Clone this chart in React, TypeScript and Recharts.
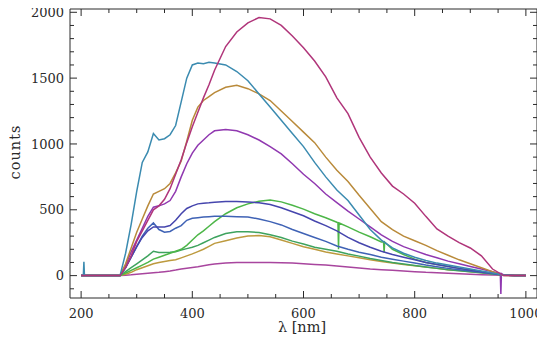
import React from "react";
import { LineChart, Line, XAxis, YAxis } from "recharts";

// Shared wavelength grid (nm)
const WAVELENGTHS = [200, 260, 270, 280, 290, 300, 310, 320, 330, 340, 350, 360, 370, 380, 390, 400, 410, 420, 430, 440, 460, 480, 500, 520, 540, 560, 580, 600, 620, 640, 660, 680, 700, 720, 740, 760, 780, 800, 820, 840, 860, 880, 900, 920, 940, 960, 980, 1000];

const TEAL = [0, 0, 0, 170, 390, 640, 860, 940, 1080, 1030, 1040, 1070, 1140, 1320, 1500, 1600, 1615, 1610, 1620, 1615, 1600, 1550, 1480, 1380, 1280, 1180, 1080, 980, 860, 750, 650, 570, 460, 350, 270, 210, 170, 140, 115, 95, 80, 65, 50, 35, 20, 5, 0, 0];
const MAGENTA = [0, 0, 0, 60, 150, 260, 340, 420, 500, 530, 580, 660, 770, 880, 1010, 1130, 1240, 1350, 1450, 1560, 1740, 1850, 1920, 1960, 1950, 1900, 1820, 1730, 1630, 1510, 1350, 1230, 1050, 900, 780, 680, 620, 550, 450, 355, 300, 250, 210, 150, 50, 0, 0, 0];
const ORANGE = [0, 0, 0, 90, 210, 330, 430, 530, 620, 640, 660, 700, 780, 870, 1020, 1180, 1280, 1330, 1360, 1390, 1430, 1445, 1420, 1380, 1330, 1250, 1170, 1090, 1010, 900, 800, 715, 610, 510, 410, 350, 300, 265, 230, 190, 155, 120, 90, 60, 30, 0, 0, 0];
const PURPLE = [0, 0, 0, 80, 180, 270, 360, 450, 520, 530, 545, 570, 640, 750, 850, 930, 990, 1030, 1070, 1100, 1110, 1100, 1070, 1030, 980, 925, 850, 770, 700, 620, 555, 490, 430, 370, 310, 260, 220, 190, 160, 135, 110, 90, 70, 50, 30, 5, 0, 0];
const BLUE_UP = [0, 0, 0, 60, 140, 220, 290, 340, 370, 370, 370, 380, 420, 470, 510, 530, 545, 550, 553, 558, 562, 562, 560, 553, 540, 515, 485, 455, 415, 380, 340, 290, 250, 215, 185, 160, 140, 120, 100, 85, 70, 55, 42, 30, 18, 5, 0, 0];
const BLUE_LO = [0, 0, 0, 60, 140, 220, 300, 360, 400, 350, 330, 335, 360, 380, 420, 435, 440, 445, 448, 450, 450, 447, 445, 430, 410, 385, 350, 320, 290, 260, 225, 200, 178, 160, 140, 125, 110, 95, 80, 68, 55, 45, 35, 25, 15, 5, 0, 0];
const GREEN_UP = [0, 0, 0, 20, 40, 60, 80, 100, 125, 140, 155, 170, 185, 200, 230, 270, 310, 340, 375, 410, 470, 515, 545, 565, 575, 560, 535, 505, 470, 440, 405, 370, 330, 295, 255, 200, 160, 125, 100, 85, 70, 55, 40, 28, 15, 5, 0, 0];
const GREEN_LO = [0, 0, 0, 30, 60, 90, 120, 150, 185, 175, 175, 178, 182, 195, 205, 215, 230, 250, 270, 290, 320, 333, 333, 328, 310, 290, 262, 240, 215, 200, 185, 165, 148, 130, 115, 100, 88, 76, 65, 55, 45, 37, 30, 22, 12, 5, 0, 0];
const ORANGE_LO = [0, 0, 0, 10, 25, 45, 60, 75, 90, 100, 108, 115, 121, 135, 150, 165, 182, 200, 222, 245, 265, 285, 300, 305, 295, 270, 245, 220, 200, 180, 165, 150, 135, 120, 108, 95, 85, 75, 65, 55, 45, 38, 30, 22, 12, 5, 0, 0];
const BOTTOM = [0, 0, 0, 3, 6, 10, 14, 18, 22, 25, 30, 35, 42, 50, 56, 62, 68, 75, 82, 88, 95, 100, 100, 100, 100, 98, 95, 90, 85, 80, 73, 65, 58, 50, 45, 40, 35, 30, 25, 22, 18, 14, 10, 7, 4, 2, 0, 0];

// Narrow spikes: [wavelength, counts]
const TEAL_SPIKES = [[204, 0], [205, 105], [206, 0]];
const GREEN_UP_SPIKES = [[662, 400], [663, 200], [664, 400], [744, 255], [745, 175], [746, 255]];
const PURPLE_SPIKES = [[954, 15], [955, -140], [956, 15]];

const X_TICKS = [200, 250, 300, 350, 400, 450, 500, 550, 600, 650, 700, 750, 800, 850, 900, 950, 1000];
const Y_TICKS = [-100, 0, 100, 200, 300, 400, 500, 600, 700, 800, 900, 1000, 1100, 1200, 1300, 1400, 1500, 1600, 1700, 1800, 1900, 2000];

const build = (values: number[], spikes: number[][] = []) =>
  WAVELENGTHS.map((wl, i) => ({ wl, v: values[i] }))
    .concat(spikes.map(([wl, v]) => ({ wl, v })))
    .sort((a, b) => a.wl - b.wl);

const SERIES = [
  { name: "bottom", values: BOTTOM, spikes: [], color: "#a8459e" },
  { name: "orangeLo", values: ORANGE_LO, spikes: [], color: "#bd9a3e" },
  { name: "greenLo", values: GREEN_LO, spikes: [], color: "#3ea35e" },
  { name: "greenUp", values: GREEN_UP, spikes: GREEN_UP_SPIKES, color: "#4db648" },
  { name: "blueLo", values: BLUE_LO, spikes: [], color: "#3f62b5" },
  { name: "blueUp", values: BLUE_UP, spikes: [], color: "#4545ad" },
  { name: "purple", values: PURPLE, spikes: PURPLE_SPIKES, color: "#9038b0" },
  { name: "orange", values: ORANGE, spikes: [], color: "#b98a3a" },
  { name: "teal", values: TEAL, spikes: TEAL_SPIKES, color: "#3b8bb0" },
  { name: "magenta", values: MAGENTA, spikes: [], color: "#b0357a" },
];

const FONT = "'DejaVu Serif', serif";
const INK = "#2a2a2a";
const MAJOR = 7;
const MINOR = 4;

const BottomTick = (p: any) => {
  const { x, y, payload } = p;
  const major = payload.value % 200 === 0;
  return (
    <g>
      <line x1={x} x2={x} y1={y} y2={y - (major ? MAJOR : MINOR)} stroke={INK} strokeWidth={1} />
      {major && (
        <text x={x} y={y + 15} dy="0.35em" textAnchor="middle" fontFamily={FONT} fontSize={13} fill={INK}>
          {payload.value}
        </text>
      )}
    </g>
  );
};
const TopTick = (p: any) => {
  const { x, y, payload } = p;
  const major = payload.value % 200 === 0;
  return <line x1={x} x2={x} y1={y} y2={y + (major ? MAJOR : MINOR)} stroke={INK} strokeWidth={1} />;
};
const LeftTick = (p: any) => {
  const { x, y, payload } = p;
  const major = payload.value % 500 === 0;
  return (
    <g>
      <line x1={x} x2={x + (major ? MAJOR : MINOR)} y1={y} y2={y} stroke={INK} strokeWidth={1} />
      {major && (
        <text x={x - 6} y={y} dy="0.35em" textAnchor="end" fontFamily={FONT} fontSize={13} fill={INK}>
          {payload.value}
        </text>
      )}
    </g>
  );
};
const RightTick = (p: any) => {
  const { x, y, payload } = p;
  const major = payload.value % 500 === 0;
  return <line x1={x} x2={x - (major ? MAJOR : MINOR)} y1={y} y2={y} stroke={INK} strokeWidth={1} />;
};

const XLabel = () => (
  <text x={302} y={327} dy="0.35em" textAnchor="middle" fontFamily={FONT} fontSize={14.5} fill={INK}>
    λ [nm]
  </text>
);
const YLabel = () => (
  <text x={15} y={152} dy="0.35em" textAnchor="middle" fontFamily={FONT} fontSize={14.5} fill={INK} transform="rotate(-90, 15, 152)" letterSpacing={1}>
    counts
  </text>
);

export default function App() {
  const axisLine = { stroke: INK, strokeWidth: 1 };
  return (
    <div style={{ margin: -8, width: 545, height: 352 }}>
      <LineChart width={545} height={352} margin={{ top: 8, right: 7, bottom: 24, left: 0 }}>
        <XAxis xAxisId="b" type="number" dataKey="wl" domain={[180, 1020]} allowDataOverflow ticks={X_TICKS} interval={0}
          orientation="bottom" height={30} axisLine={axisLine} tickLine={false} tickSize={0} tickMargin={0} tick={<BottomTick />} label={<XLabel />} />
        <XAxis xAxisId="t" type="number" dataKey="wl" domain={[180, 1020]} allowDataOverflow ticks={X_TICKS} interval={0}
          orientation="top" height={1} axisLine={axisLine} tickLine={false} tickSize={0} tickMargin={0} tick={<TopTick />} />
        <YAxis yAxisId="l" type="number" domain={[-170, 2025]} allowDataOverflow ticks={Y_TICKS} interval={0}
          orientation="left" width={70} axisLine={axisLine} tickLine={false} tickSize={0} tickMargin={0} tick={<LeftTick />} label={<YLabel />} />
        <YAxis yAxisId="r" type="number" domain={[-170, 2025]} allowDataOverflow ticks={Y_TICKS} interval={0}
          orientation="right" width={1} axisLine={axisLine} tickLine={false} tickSize={0} tickMargin={0} tick={<RightTick />} />
        {SERIES.map((s) => (
          <Line key={s.name} xAxisId="b" yAxisId="l" data={build(s.values, s.spikes)} dataKey="v" type="linear"
            stroke={s.color} strokeWidth={1.5} dot={false} activeDot={false} isAnimationActive={false} />
        ))}
      </LineChart>
    </div>
  );
}
